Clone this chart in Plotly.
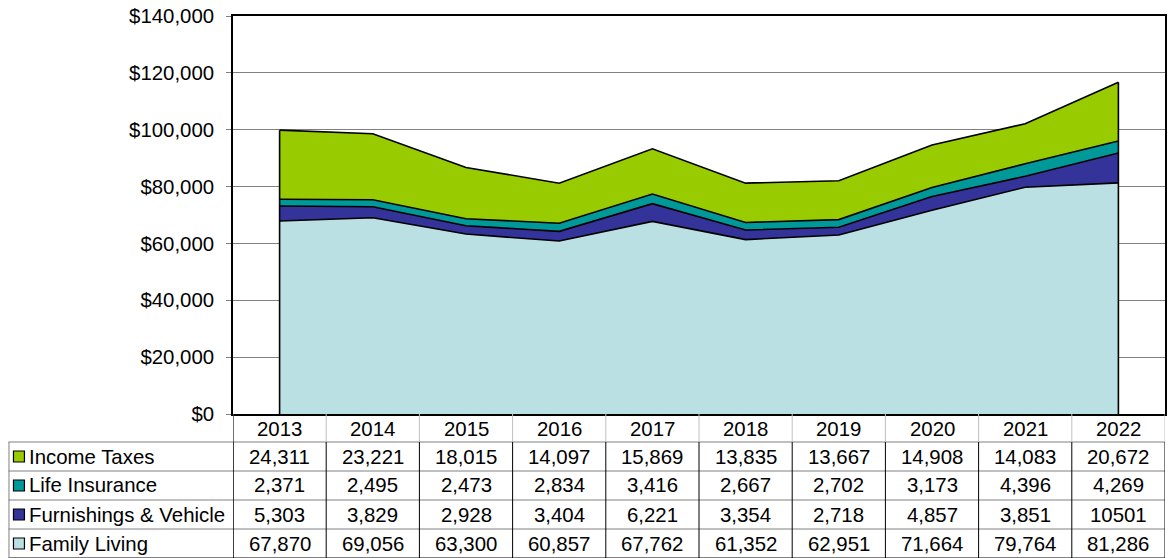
import plotly.graph_objects as go

years = ["2013", "2014", "2015", "2016", "2017", "2018", "2019", "2020", "2021", "2022"]
family_living = [67870, 69056, 63300, 60857, 67762, 61352, 62951, 71664, 79764, 81286]
furnishings_vehicle = [5303, 3829, 2928, 3404, 6221, 3354, 2718, 4857, 3851, 10501]
life_insurance = [2371, 2495, 2473, 2834, 3416, 2667, 2702, 3173, 4396, 4269]
income_taxes = [24311, 23221, 18015, 14097, 15869, 13835, 13667, 14908, 14083, 20672]

# cells printed without thousands separator in the source table
raw_cells = {("Furnishings & Vehicle", "2022")}

series = [
    ("Family Living", family_living, "#BBE0E3"),
    ("Furnishings & Vehicle", furnishings_vehicle, "#333399"),
    ("Life Insurance", life_insurance, "#009999"),
    ("Income Taxes", income_taxes, "#99CC00"),
]

W, H = 1168, 558
L, R, T, B = 233, 1, 16, 144
plot_w = W - L - R
plot_h = H - T - B

def py(pixel_y):
    return (H - B - pixel_y) / plot_h

def px(pixel_x):
    return (pixel_x - L) / plot_w

fig = go.Figure()
xi = list(range(len(years)))
for name, vals, color in series:
    fig.add_trace(go.Scatter(
        x=xi, y=vals, name=name, mode="lines", stackgroup="one",
        fillcolor=color, line=dict(color="black", width=1.6),
        hoverinfo="x+y+name",
    ))

totals = [sum(s[1][i] for s in series) for i in range(len(years))]
shapes = []
for i in (0, len(years) - 1):
    shapes.append(dict(type="line", xref="x", yref="y", x0=i, x1=i, y0=0, y1=totals[i],
                       line=dict(color="black", width=1.6)))

FONT = "Liberation Sans, Arial, sans-serif"
fs = 20.4
annotations = []

# table geometry (pixel rows)
header_top, header_bot = 414, 442
row_h = 29
table_rows = [
    ("Income Taxes", income_taxes, "#99CC00"),
    ("Life Insurance", life_insurance, "#009999"),
    ("Furnishings & Vehicle", furnishings_vehicle, "#333399"),
    ("Family Living", family_living, "#BBE0E3"),
]

# header years
for i, y in enumerate(years):
    annotations.append(dict(x=i, y=py((header_top + header_bot) / 2 + 1), xref="x", yref="paper",
                            text=y, showarrow=False, font=dict(size=fs, color="black", family=FONT),
                            xanchor="center", yanchor="middle"))

# rows
for r, (name, vals, color) in enumerate(table_rows):
    top = header_bot + r * row_h
    bot = top + row_h
    cy = py((top + bot) / 2)
    annotations.append(dict(x=px(27), y=cy, xref="paper", yref="paper", text=name,
                            showarrow=False, font=dict(size=fs, color="black", family=FONT),
                            xanchor="left", yanchor="middle"))
    shapes.append(dict(type="rect", xref="paper", yref="paper",
                       x0=px(13), x1=px(24), y0=py((top + bot) / 2 + 5.5), y1=py((top + bot) / 2 - 5.5),
                       fillcolor=color, line=dict(color="black", width=1.2)))
    for i, v in enumerate(vals):
        txt = str(v) if (name, years[i]) in raw_cells else f"{v:,}"
        annotations.append(dict(x=i, y=cy, xref="x", yref="paper", text=txt, showarrow=False,
                                font=dict(size=fs, color="black", family=FONT),
                                xanchor="center", yanchor="middle"))
    # horizontal separator
    shapes.append(dict(type="line", xref="paper", yref="paper", x0=px(8), x1=1,
                       y0=py(top), y1=py(top), line=dict(color="#808080", width=1)))
shapes.append(dict(type="line", xref="paper", yref="paper", x0=px(8), x1=1,
                   y0=py(H - 0.5), y1=py(H - 0.5), line=dict(color="#808080", width=1)))
# left border of legend column
shapes.append(dict(type="line", xref="paper", yref="paper", x0=px(8.5), x1=px(8.5),
                   y0=py(header_bot), y1=py(H), line=dict(color="#808080", width=1)))
# vertical separators
for k in range(len(years) + 1):
    xv = k - 0.5
    shapes.append(dict(type="line", xref="x", yref="paper", x0=xv, x1=xv,
                       y0=py(header_top), y1=py(header_bot), line=dict(color="#C0C0C0", width=1)))
    shapes.append(dict(type="line", xref="x", yref="paper", x0=xv, x1=xv,
                       y0=py(header_bot), y1=py(H), line=dict(color="black", width=1)))
shapes.append(dict(type="line", xref="x", yref="paper", x0=-0.5, x1=-0.5,
                   y0=py(header_top), y1=py(H), line=dict(color="black", width=1)))

fig.update_layout(
    width=W, height=H,
    margin=dict(l=L, r=R, t=T, b=B),
    paper_bgcolor="white", plot_bgcolor="white",
    showlegend=False,
    font=dict(family=FONT, size=fs, color="black"),
    shapes=shapes, annotations=annotations,
    xaxis=dict(range=[-0.5, len(years) - 0.5], showticklabels=False, showgrid=False,
               zeroline=False, showline=True, linecolor="black", linewidth=1.5, mirror=True,
               ticks=""),
    yaxis=dict(range=[0, 140000], dtick=20000, tickprefix="$", tickformat=",",
               showgrid=True, gridcolor="#808080", gridwidth=1, zeroline=False,
               showline=True, linecolor="black", linewidth=1.5, mirror=True,
               ticks="outside", ticklen=5, tickcolor="#808080", ticklabelstandoff=8,
               tickfont=dict(size=fs, family=FONT, color="black")),
)

fig.write_html("out.html", config={"displayModeBar": False},
               post_script="document.body.style.margin='0';document.body.style.overflow='hidden';")
